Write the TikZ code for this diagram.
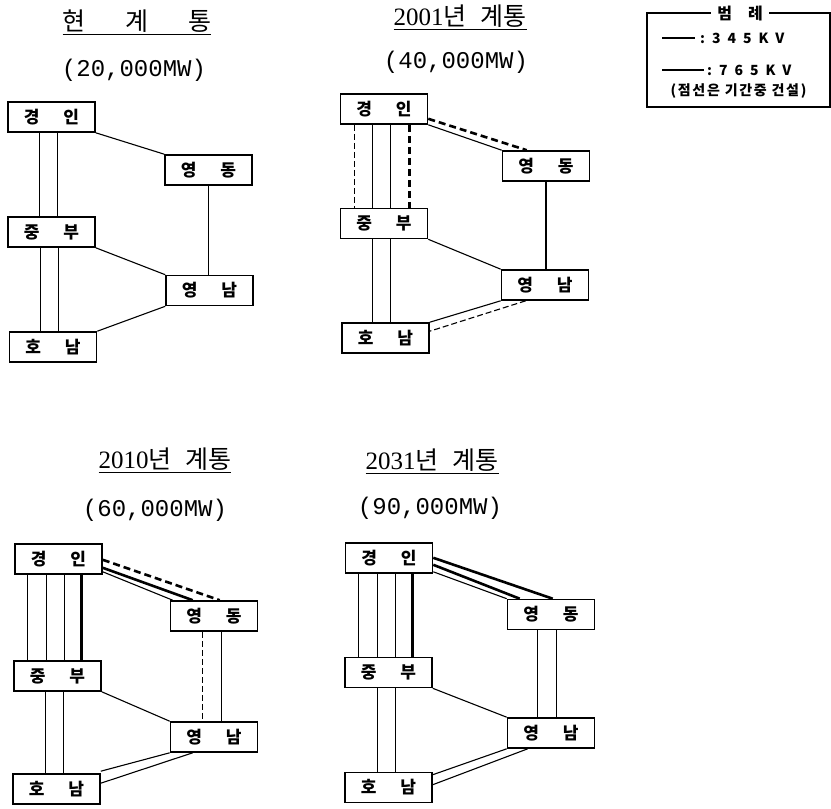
\documentclass[tikz,border=0pt]{standalone}
\usepackage{fontspec}
\setmainfont{Liberation Serif}
\newfontfamily\kr{Noto Sans CJK KR}
\newfontfamily\mono{Liberation Mono}
\usetikzlibrary{positioning}

\begin{document}
\begin{tikzpicture}[x=1pt,y=-1pt,
box/.style={draw,line width=1.6pt,minimum width=87pt,minimum height=30pt,inner sep=0pt,font=\kr\bfseries\fontsize{17}{17}\selectfont},
kv345/.style={line width=1.1pt}, kv765/.style={line width=2.6pt},
plan345/.style={kv345,dash pattern=on 6pt off 3pt}, plan765/.style={kv765,dash pattern=on 7pt off 4pt},
ttl/.style={inner sep=0pt,font=\fontsize{25}{25}\selectfont}, mw/.style={inner sep=0pt,font=\mono\fontsize{24}{24}\selectfont},
lgd/.style={inner sep=0pt,font=\kr\bfseries\fontsize{14}{14}\selectfont}]
\useasboundingbox (0,0) rectangle (831,809);
\newcommand{\gap}{\hspace{24pt}}
\newcommand{\yr}[1]{\underline{#1{\kr 년\hspace{14pt}계통}}}
% 현 계통
\node[ttl] (t1) at (137,22) {\underline{\kr 현\hspace{40pt}계\hspace{40pt}통}};
\node[mw] (m1) at (134,70) {(20,000MW)};
\node[box] (gi1) at (51.5,117) {경\gap 인};
\node[box] (yd1) at (208.5,170) {영\gap 동};
\node[box] (jb1) at (51.5,232) {중\gap 부};
\node[box] (yn1) at (209.5,290.5) {영\gap 남};
\node[box] (hn1) at (53,347) {호\gap 남};
\draw[kv345] ([xshift=32]gi1.south west) -- ([xshift=32]jb1.north west);
\draw[kv345] ([xshift=50]gi1.south west) -- ([xshift=50]jb1.north west);
\draw[kv345] ([xshift=33]jb1.south west) -- ([xshift=33]jb1.south west |- hn1.north);
\draw[kv345] ([xshift=51]jb1.south west) -- ([xshift=51]jb1.south west |- hn1.north);
\draw[kv345] (gi1.south east) -- (yd1.north west);
\draw[kv345] (yd1.south) -- (yd1.south |- yn1.north);
\draw[kv345] (jb1.south east) -- (yn1.north west);
\draw[kv345] (yn1.south west) -- (hn1.north east);
% 2001년
\node[ttl] (t2) at (460,17) {\yr{2001}};
\node[mw] (m2) at (456,62) {(40,000MW)};
\node[box] (gi2) at (384,109) {경\gap 인};
\node[box] (yd2) at (546,166) {영\gap 동};
\node[box] (jb2) at (384,223.5) {중\gap 부};
\node[box] (yn2) at (545,285) {영\gap 남};
\node[box] (hn2) at (385.5,338) {호\gap 남};
\draw[plan345] ([xshift=15]gi2.south west) -- ([xshift=15]jb2.north west);
\draw[kv345] ([xshift=33]gi2.south west) -- ([xshift=33]jb2.north west);
\draw[kv345] ([xshift=51]gi2.south west) -- ([xshift=51]jb2.north west);
\draw[plan765] ([xshift=70]gi2.south west) -- ([xshift=70]jb2.north west);
\draw[kv345] ([xshift=33]jb2.south west) -- ([xshift=33]jb2.south west |- hn2.north);
\draw[kv345] ([xshift=51]jb2.south west) -- ([xshift=51]jb2.south west |- hn2.north);
\draw[kv345] (gi2.south east) -- (yd2.north west);
\draw[plan765] ([yshift=6]gi2.south east) -- ([xshift=25]yd2.north west);
\draw[kv345] (yd2.south) -- (yd2.south |- yn2.north);
\draw[kv345] (jb2.south east) -- (yn2.north west);
\draw[kv345] (yn2.south west) -- (hn2.north east);
\draw[plan345] ([xshift=25]yn2.south west) -- ([yshift=-9]hn2.north east);
% 2010년
\node[ttl] (t3) at (165,460) {\yr{2010}};
\node[mw] (m3) at (155,510) {(60,000MW)};
\node[box] (gi3) at (58.5,559) {경\gap 인};
\node[box] (yd3) at (214,616) {영\gap 동};
\node[box] (jb3) at (57.5,676) {중\gap 부};
\node[box] (yn3) at (214,737) {영\gap 남};
\node[box] (hn3) at (56.5,789) {호\gap 남};
\draw[kv345] ([xshift=13]gi3.south west) -- ([xshift=13]gi3.south west |- jb3.north);
\draw[kv345] ([xshift=32]gi3.south west) -- ([xshift=32]gi3.south west |- jb3.north);
\draw[kv345] ([xshift=50]gi3.south west) -- ([xshift=50]gi3.south west |- jb3.north);
\draw[kv765] ([xshift=67]gi3.south west) -- ([xshift=67]gi3.south west |- jb3.north);
\draw[kv345] ([xshift=32]jb3.south west) -- ([xshift=32]jb3.south west |- hn3.north);
\draw[kv345] ([xshift=50]jb3.south west) -- ([xshift=50]jb3.south west |- hn3.north);
\draw[kv345] ([yshift=3]gi3.south east) -- ([xshift=3]yd3.north west);
\draw[kv765] ([yshift=7]gi3.south east) -- ([xshift=23]yd3.north west);
\draw[plan765] ([yshift=15]gi3.south east) -- ([xshift=50]yd3.north west);
\draw[plan345] ([xshift=33]yd3.south west) -- ([xshift=33]yd3.south west |- yn3.north);
\draw[kv345] ([xshift=52]yd3.south west) -- ([xshift=52]yd3.south west |- yn3.north);
\draw[kv345] (jb3.south east) -- (yn3.north west);
\draw[kv345] (yn3.south west) -- ([yshift=2]hn3.north east);
\draw[kv345] ([xshift=23]yn3.south west) -- ([yshift=-10]hn3.north east);
% 2031년
\node[ttl] (t4) at (432,461) {\yr{2031}};
\node[mw] (m4) at (430,508) {(90,000MW)};
\node[box] (gi4) at (389,558) {경\gap 인};
\node[box] (yd4) at (551,614.5) {영\gap 동};
\node[box] (jb4) at (388.5,672.5) {중\gap 부};
\node[box] (yn4) at (551,733) {영\gap 남};
\node[box] (hn4) at (388.5,787.5) {호\gap 남};
\draw[kv345] ([xshift=14]gi4.south west) -- ([xshift=14]gi4.south west |- jb4.north);
\draw[kv345] ([xshift=33]gi4.south west) -- ([xshift=33]gi4.south west |- jb4.north);
\draw[kv345] ([xshift=51]gi4.south west) -- ([xshift=51]gi4.south west |- jb4.north);
\draw[kv765] ([xshift=68]gi4.south west) -- ([xshift=68]gi4.south west |- jb4.north);
\draw[kv345] ([xshift=33]jb4.south west) -- ([xshift=33]jb4.south west |- hn4.north);
\draw[kv345] ([xshift=51]jb4.south west) -- ([xshift=51]jb4.south west |- hn4.north);
\draw[kv345] ([yshift=2]gi4.south east) -- (yd4.north west);
\draw[kv765] ([yshift=9]gi4.south east) -- ([xshift=13]yd4.north west);
\draw[kv765] ([yshift=16]gi4.south east) -- ([xshift=46]yd4.north west);
\draw[kv345] ([xshift=31]yd4.south west) -- ([xshift=31]yd4.south west |- yn4.north);
\draw[kv345] ([xshift=50]yd4.south west) -- ([xshift=50]yd4.south west |- yn4.north);
\draw[kv345] (jb4.south east) -- (yn4.north west);
\draw[kv345] (yn4.south west) -- ([yshift=-3]hn4.north east);
\draw[kv345] ([xshift=21]yn4.south west) -- ([yshift=-13]hn4.north east);
% 범례
\draw[line width=1.3pt] (647,13) rectangle (830,107);
\node[lgd,fill=white,inner xsep=6pt,font=\kr\bfseries\fontsize{16}{16}\selectfont] (lg) at (740,13) {범\hspace{16pt}례};
\coordinate (a1) at (662,38); \coordinate (a2) at (662,70);
\draw[kv345] (a1) -- ++(33,0);
\draw[kv765] (a2) -- ++(42,0);
\node[lgd,anchor=west] (l345) at (700,38) {\addfontfeature{LetterSpace=50}:345KV};
\node[lgd,anchor=west] (l765) at (707,70) {\addfontfeature{LetterSpace=50}:765KV};
\node[lgd] (lnote) at (738.5,91) {\addfontfeature{LetterSpace=12}(점선은 기간중 건설)};
\end{tikzpicture}
\end{document}
